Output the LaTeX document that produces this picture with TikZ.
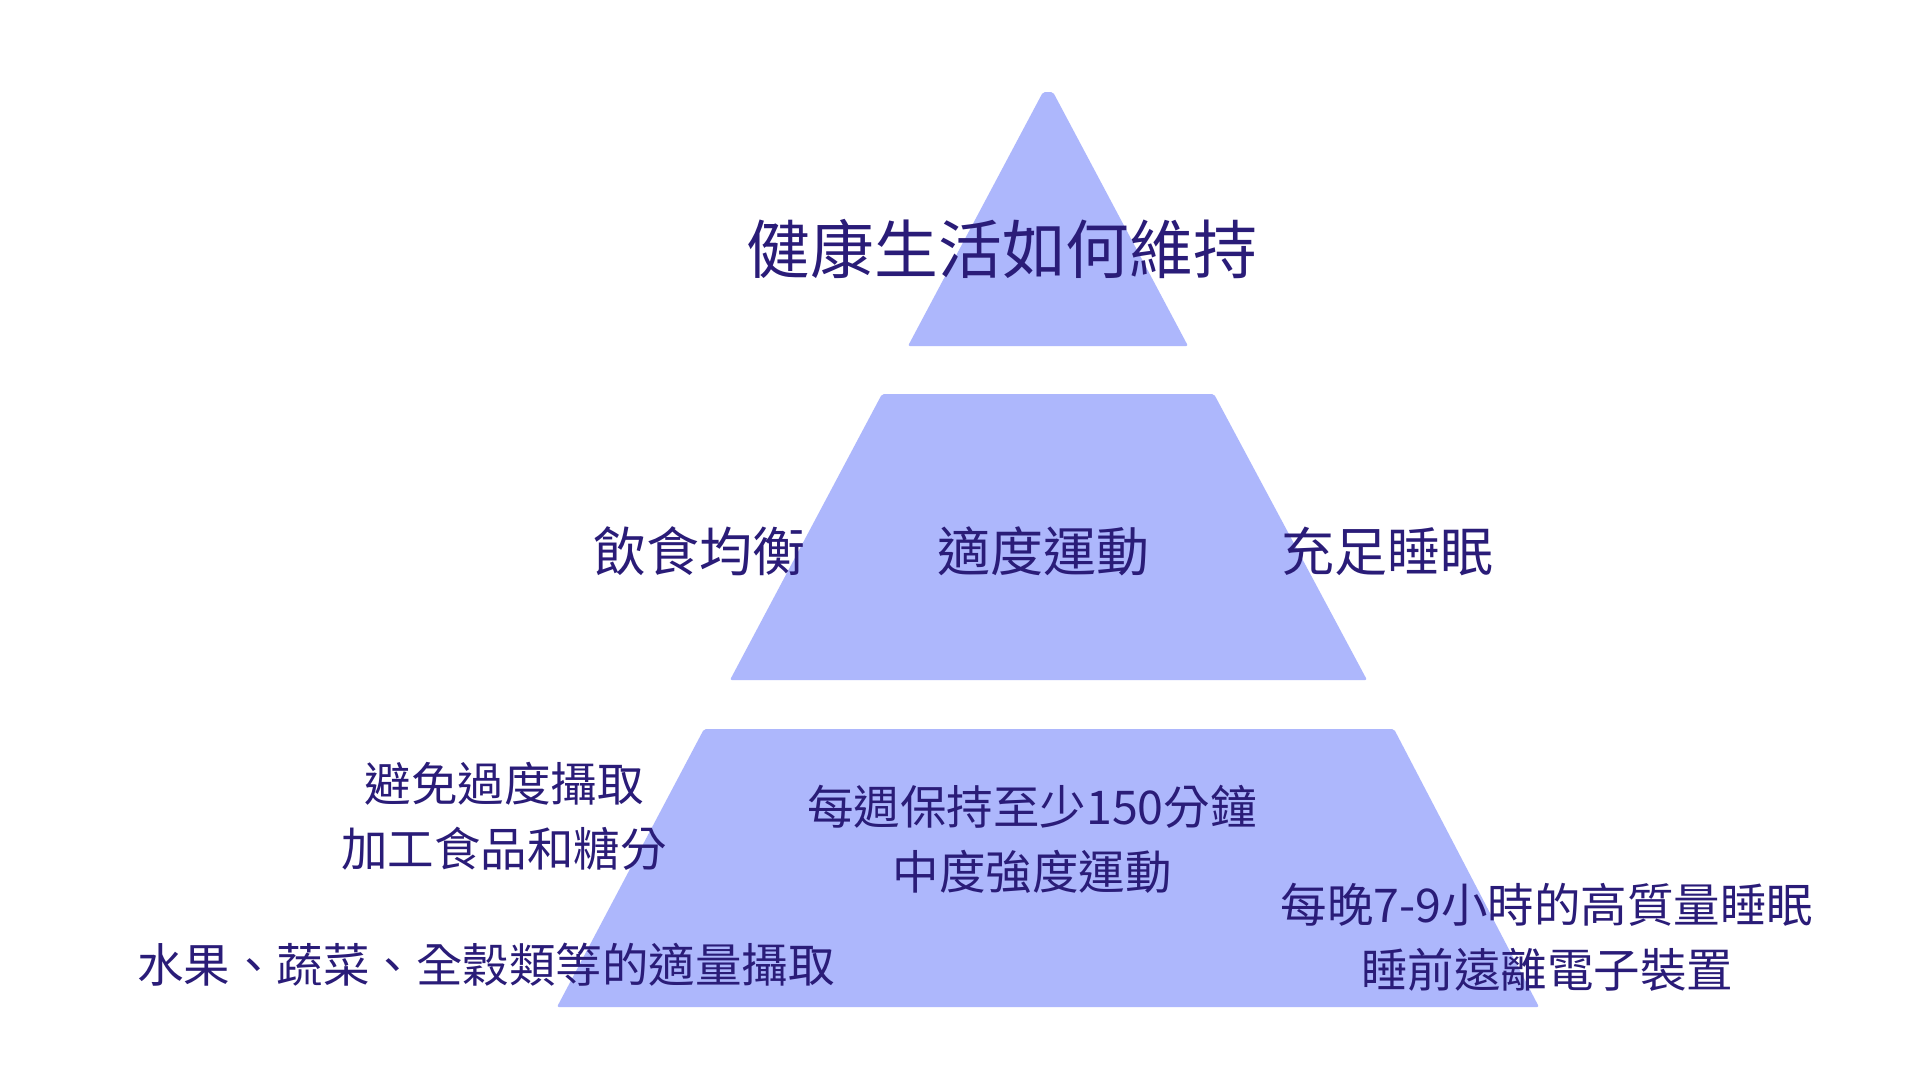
\documentclass[tikz,border=0pt]{standalone}
\usepackage{fontspec}
\newfontfamily\cjk{Noto Sans CJK TC}
\definecolor{pyrfill}{HTML}{ADB7FC}
\definecolor{pyrtext}{HTML}{2A1C78}
\tikzset{
  layer/.style={fill=pyrfill, draw=none, rounded corners=2pt},
  lbl/.style={text=pyrtext, inner sep=0pt, align=center, font=\cjk\fontsize{46.5}{65}\selectfont},
  midlbl/.style={lbl, font=\cjk\fontsize{53}{60}\selectfont},
  titlelbl/.style={lbl, font=\cjk\fontsize{63.8}{70}\selectfont}
}
\begin{document}
\begin{tikzpicture}[x=1pt,y=-1pt]
\useasboundingbox (0,0) rectangle (1920,1080);
\fill[white] (0,0) rectangle (1920,1080);
% pyramid layers
\fill[layer] (1043,92) -- (1053,92) -- (1188,346) -- (908,346) -- cycle;
\fill[layer] (882,394) -- (1214,394) -- (1367,680) -- (730,680) -- cycle;
\fill[layer] (704,729) -- (1394,729) -- (1539,1007) -- (557,1007) -- cycle;
% labels
\node[titlelbl] (title) at (1002,249) {健康生活如何維持};
\node[midlbl] (diet) at (699.5,551) {飲食均衡};
\node[midlbl] (exer) at (1043,551) {適度運動};
\node[midlbl] (sleep) at (1387,551) {充足睡眠};
\node[lbl] (avoid) at (504,816) {避免過度攝取\\加工食品和糖分};
\node[lbl] (fruit) at (486,965) {水果、蔬菜、全穀類等的適量攝取};
\node[lbl] (week) at (1032,839) {每週保持至少150分鐘\\中度強度運動};
\node[lbl] (night) at (1547,937) {每晚7-9小時的高質量睡眠\\睡前遠離電子裝置};
\end{tikzpicture}
\end{document}
